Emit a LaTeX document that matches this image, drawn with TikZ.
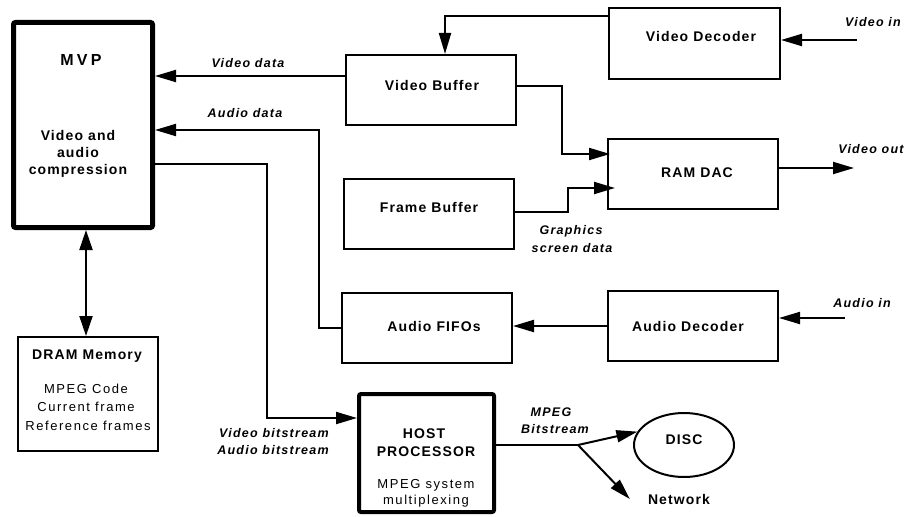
\documentclass[tikz,border=0pt]{standalone}
\usepackage{fontspec}
\setmainfont{Liberation Sans}
\newfontfamily\boldfam[LetterSpace=8]{Liberation Sans}
\newfontfamily\bigfam[LetterSpace=20]{Liberation Sans}
\newfontfamily\itfam[LetterSpace=10]{Liberation Sans}
\newfontfamily\plainfam[LetterSpace=12]{Liberation Sans}
\usetikzlibrary{arrows.meta,calc,shapes.geometric}

\tikzset{
  box/.style={draw, line width=2pt, inner sep=0pt},
  heavybox/.style={draw, line width=#1, inner sep=0pt, rounded corners=2pt},
  boldtxt/.style={inner sep=0pt, text height=10pt, text depth=0pt, font=\boldfam\bfseries\fontsize{14}{17}\selectfont},
  bigtxt/.style={inner sep=0pt, text height=11.5pt, text depth=0pt, font=\bigfam\bfseries\fontsize{16}{19}\selectfont},
  itxt/.style={inner sep=0pt, text height=9pt, text depth=0pt, font=\itfam\bfseries\itshape\fontsize{12.5}{15}\selectfont},
  plaintxt/.style={inner sep=0pt, text height=9.3pt, text depth=0pt, font=\plainfam\fontsize{13}{16}\selectfont},
  conn/.style={line width=2pt},
  arr/.style={conn, -{Triangle[length=21pt,width=12pt]}},
  dblarr/.style={conn, {Triangle[length=20pt,width=13pt]}-{Triangle[length=20pt,width=13pt]}},
}

\begin{document}
\begin{tikzpicture}[x=1pt, y=-1pt]
\useasboundingbox (0,0) rectangle (909,516);

% ---- blocks ----
\node[heavybox=5pt, minimum width=139pt, minimum height=205pt] (mvp) at (83,125) {};
\node[box, minimum width=140pt, minimum height=114pt] (dram) at (88,394) {};
\node[box, minimum width=170pt, minimum height=70pt] (vbuf) at (431,90) {};
\node[box, minimum width=171pt, minimum height=71pt] (vdec) at (694.5,43.5) {};
\node[box, minimum width=170pt, minimum height=70pt] (ramdac) at (693,174) {};
\node[box, minimum width=170pt, minimum height=70pt] (fbuf) at (429,214) {};
\node[box, minimum width=170pt, minimum height=70pt] (afifo) at (427,328) {};
\node[box, minimum width=170pt, minimum height=70pt] (adec) at (693,326) {};
\node[heavybox=4pt, minimum width=135pt, minimum height=118pt] (host) at (426.5,453) {};
\node[draw, line width=2pt, ellipse, minimum width=100pt, minimum height=64pt, inner sep=0pt] (disc) at (684,445) {};

% ---- block texts ----
\node[bigtxt] (mvpname) at (81,60) {MVP};
\node[boldtxt] (mvpa) at (78,135) {Video and};
\node[boldtxt] (mvpb) at (78,152) {audio};
\node[boldtxt] (mvpc) at (78,169) {compression};

\node[boldtxt] (dramname) at (87,354) {DRAM Memory};
\node[plaintxt] (drama) at (86,389) {MPEG Code};
\node[plaintxt] (dramb) at (86,407) {Current frame};
\node[plaintxt] (dramc) at (88,426) {Reference frames};

\node[boldtxt] (vbufname) at (432,86) {Video Buffer};
\node[boldtxt] (vdecname) at (701,37) {Video Decoder};
\node[boldtxt] (ramdacname) at (697,172) {RAM DAC};
\node[boldtxt] (fbufname) at (429,207) {Frame Buffer};
\node[boldtxt] (afifoname) at (434,326) {Audio FIFOs};
\node[boldtxt] (adecname) at (688,326) {Audio Decoder};
\node[boldtxt] (discname) at (684,439) {DISC};

\node[boldtxt] (hosta) at (424,433) {HOST};
\node[boldtxt] (hostb) at (426,451) {PROCESSOR};
\node[plaintxt] (hostc) at (426,484) {MPEG system};
\node[plaintxt] (hostd) at (426,500) {multiplexing};

% ---- connector labels ----
\node[itxt] (lvdata) at (248,63) {Video data};
\node[itxt] (ladata) at (245,113) {Audio data};
\node[itxt] (lvin) at (873,22) {Video in};
\node[itxt] (lvout) at (871,149) {Video out};
\node[itxt] (lgfx) at (571,230) {Graphics};
\node[itxt] (lscr) at (572,248) {screen data};
\node[itxt] (lain) at (862,303) {Audio in};
\node[itxt] (lvbs) at (274,433) {Video bitstream};
\node[itxt] (labs) at (273,450) {Audio bitstream};
\node[itxt] (lmpeg) at (551,412) {MPEG};
\node[itxt] (lbits) at (555,429) {Bitstream};
\node[boldtxt] (net) at (679,499) {Network};

% ---- free ends ----
\coordinate (vin) at (857,40);
\coordinate (vout) at (854,168);
\coordinate (ain) at (845,318);
\coordinate (split) at (578,445);

% ---- connectors ----
\draw[arr] (vbuf.west |- 0,76) -- (mvp.east |- 0,76);
\draw[arr] (afifo.west) -- (319,328) |- (mvp.east |- 0,130);
\draw[arr] (mvp.east |- 0,164) -- (267,164) |- (host.west |- 0,418);
\draw[dblarr] (86,0 |- mvp.south) -- (86,0 |- dram.north);

\draw[arr] (vdec.west |- 0,16) -| (445,0 |- vbuf.north);
\draw[arr, shorten >=-3pt] (vbuf.east |- 0,86) -- (562,86) |- (ramdac.west |- 0,154);
\draw[arr, shorten >=-8pt] (fbuf.east |- 0,212) -- (568,212) |- (ramdac.west |- 0,188);
\draw[arr] (vin) -- (vdec.east |- vin);
\draw[arr] (ramdac.east |- vout) -- (vout);

\draw[arr] (adec.west) -- (afifo.east |- adec.west);
\draw[arr] (ain) -- (adec.east |- ain);

\draw[conn] (host.east |- split) -- (split);
\draw[arr] (split) -- (disc.164);
\draw[arr] (split) -- ([xshift=-18pt]net.west);
\end{tikzpicture}
\end{document}
